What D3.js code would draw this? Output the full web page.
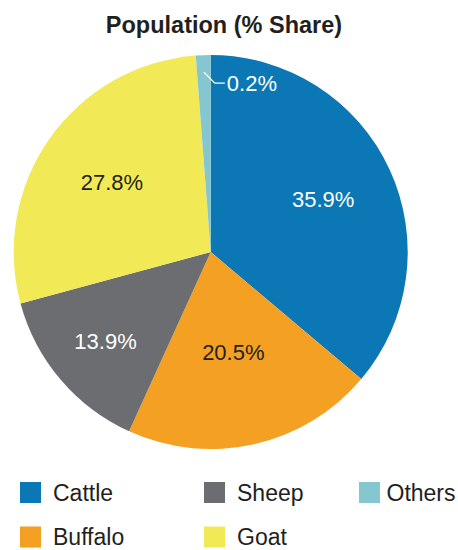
<!DOCTYPE html>
<html>
<head>
<meta charset="utf-8">
<script src="https://cdn.jsdelivr.net/npm/d3@7"></script>
<style>
  html, body { margin: 0; padding: 0; background: #fff; }
  svg { display: block; }
  text { font-family: "Liberation Sans", Arial, Helvetica, sans-serif; }
</style>
</head>
<body>
<svg id="chart" width="458" height="550"></svg>
<script>
// ---- data ----
const title = "Population (% Share)";
const categories = ["Cattle", "Buffalo", "Sheep", "Goat", "Others"];
const shares = [35.9, 20.5, 13.9, 27.8, 1.2];          // slice sizes as drawn
const shareLabels = ["35.9%", "20.5%", "13.9%", "27.8%", "0.2%"]; // printed labels
const colors = ["#0b77b4", "#f4a023", "#6c6d71", "#f2e956", "#84c7d0"];
const labelColors = ["#ffffff", "#231f20", "#ffffff", "#231f20", "#ffffff"];
const legendOrder = ["Cattle", "Sheep", "Others", "Buffalo", "Goat"];

// ---- layout ----
const svg = d3.select("#chart");
const cx = 210.7, cy = 252, R = 197;
const labelRadius = [124, 103, 138, 121]; // radial distance of in-slice labels

svg.append("text")
  .attr("x", 224).attr("y", 33)
  .attr("text-anchor", "middle")
  .attr("font-size", 23.5)
  .attr("font-weight", "bold")
  .attr("fill", "#231f20")
  .text(title);

const data = categories.map((c, i) => ({ cat: c, value: shares[i], label: shareLabels[i], i }));
const pie = d3.pie().sort(null).value(d => d.value).startAngle(0).endAngle(2 * Math.PI);
const arcs = pie(data);
const arc = d3.arc().innerRadius(0).outerRadius(R);

const g = svg.append("g").attr("transform", `translate(${cx},${cy})`);
g.selectAll("path.slice")
  .data(arcs)
  .join("path")
  .attr("class", "slice")
  .attr("d", arc)
  .attr("fill", d => colors[d.data.i]);

// in-slice labels
arcs.slice(0, 4).forEach((a, k) => {
  const mid = (a.startAngle + a.endAngle) / 2;
  const r = labelRadius[k];
  g.append("text")
    .attr("x", Math.sin(mid) * r)
    .attr("y", -Math.cos(mid) * r)
    .attr("dy", "0.35em")
    .attr("text-anchor", "middle")
    .attr("font-size", 22)
    .attr("fill", labelColors[a.data.i])
    .text(a.data.label);
});

// Others label with leader
const o = arcs[4];
const om = (o.startAngle + o.endAngle) / 2;
const p0 = [Math.sin(om) * 180, -Math.cos(om) * 180];
const p1 = [p0[0] + 11, p0[1] + 11];
const p2 = [p1[0] + 10, p1[1]];
g.append("polyline")
  .attr("points", [p0, p1, p2].map(p => p.join(",")).join(" "))
  .attr("fill", "none")
  .attr("stroke", "#ffffff")
  .attr("stroke-width", 1.3);
g.append("text")
  .attr("x", p2[0] + 2)
  .attr("y", p2[1])
  .attr("dy", "0.35em")
  .attr("font-size", 22)
  .attr("fill", labelColors[4])
  .text(o.data.label);

// legend
const colX = [20, 204, 359];
const rowY = [482, 526.5];
legendOrder.forEach((name, k) => {
  const i = categories.indexOf(name);
  const col = k % 3, row = Math.floor(k / 3);
  const lg = svg.append("g").attr("transform", `translate(${colX[col]},${rowY[row]})`);
  lg.append("rect").attr("width", 21).attr("height", 21).attr("fill", colors[i]);
  lg.append("text")
    .attr("x", col === 2 ? 27.5 : 33)
    .attr("y", 18.5)
    .attr("font-size", 23)
    .attr("fill", "#231f20")
    .text(name);
});
</script>
</body>
</html>
